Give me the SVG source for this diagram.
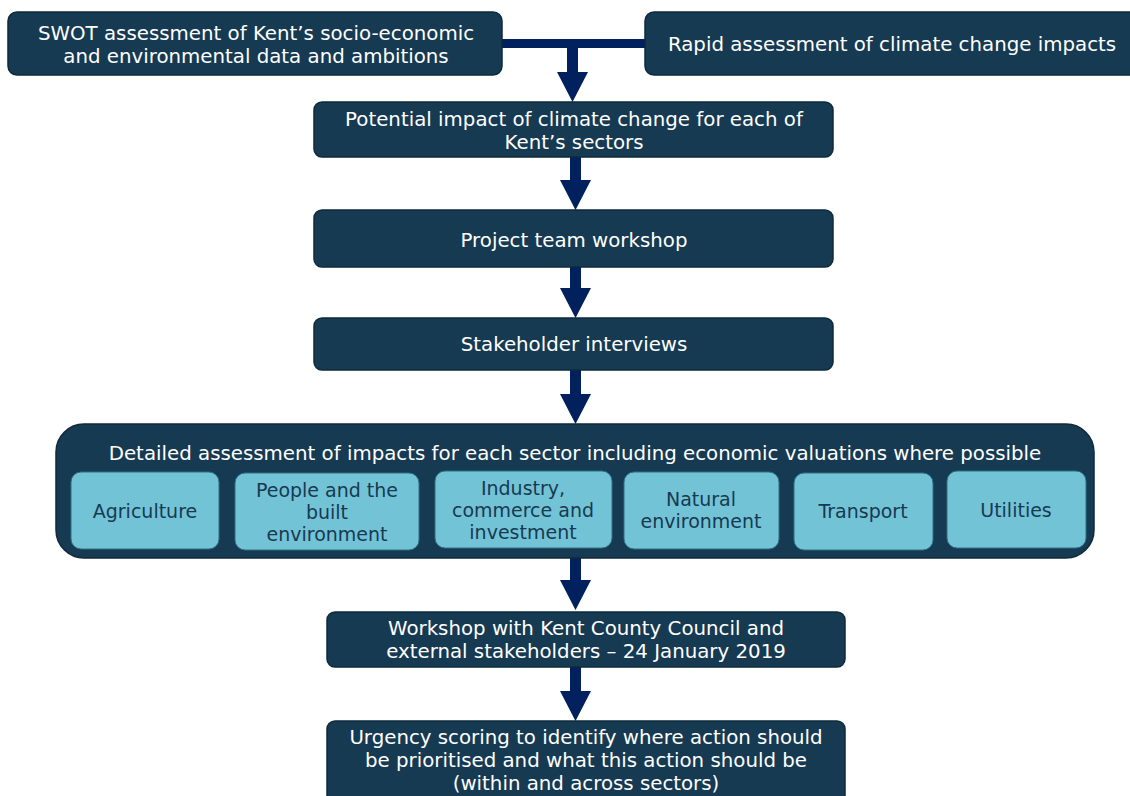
<svg xmlns="http://www.w3.org/2000/svg" width="1130" height="796" viewBox="0 0 1130 796">
<style>
.box{fill:#163a52;stroke:#0e2a3c;stroke-width:1.5}
.sub{fill:#73c3d7;stroke:#2f6f84;stroke-width:1}
.t{font-family:"DejaVu Sans",Verdana,sans-serif;font-size:19.8px;fill:#ffffff;text-anchor:middle}
.s{font-family:"DejaVu Sans",Verdana,sans-serif;font-size:19px;fill:#173a50;text-anchor:middle}
.arr{fill:#00205e}
</style>
<rect width="1130" height="796" fill="#ffffff"/>
<g id="connectors">
<rect class="arr" x="502" y="39" width="144" height="9"/>
<polygon class="arr" points="567,48 578,48 578,72 588,72 572.5,102 557,72 567,72"/>
<polygon class="arr" points="570,157 581,157 581,180 591,180 575.5,210 560,180 570,180"/>
<polygon class="arr" points="570,267 581,267 581,288 591,288 575.5,318 560,288 570,288"/>
<polygon class="arr" points="570,370 581,370 581,394 591,394 575.5,424 560,394 570,394"/>
<polygon class="arr" points="570,558 581,558 581,580 591,580 575.5,610 560,580 570,580"/>
<polygon class="arr" points="570,667 581,667 581,691 591,691 575.5,721 560,691 570,691"/>
</g>
<g id="swot">
<rect class="box" x="8" y="12" width="494" height="63" rx="9"/>
<text class="t" x="256" y="40">SWOT assessment of Kent’s socio-economic</text>
<text class="t" x="256" y="63">and environmental data and ambitions</text>
</g>
<g id="rapid">
<rect class="box" x="645" y="12" width="500" height="63" rx="9"/>
<text class="t" x="892" y="51">Rapid assessment of climate change impacts</text>
</g>
<g id="potential">
<rect class="box" x="314" y="102" width="519" height="55" rx="8"/>
<text class="t" x="574" y="126">Potential impact of climate change for each of</text>
<text class="t" x="574" y="149">Kent’s sectors</text>
</g>
<g id="project">
<rect class="box" x="314" y="210" width="519" height="57" rx="8"/>
<text class="t" x="574" y="247">Project team workshop</text>
</g>
<g id="stakeholder">
<rect class="box" x="314" y="318" width="519" height="52" rx="8"/>
<text class="t" x="574" y="351">Stakeholder interviews</text>
</g>
<g id="detailed">
<rect class="box" x="56" y="424" width="1038" height="134" rx="28"/>
<text class="t" x="575" y="460">Detailed assessment of impacts for each sector including economic valuations where possible</text>
</g>
<g id="agriculture">
<rect class="sub" x="71" y="472" width="148" height="77" rx="10"/>
<text class="s" x="145" y="518">Agriculture</text>
</g>
<g id="people">
<rect class="sub" x="235" y="473" width="184" height="77" rx="10"/>
<text class="s" x="327" y="497">People and the</text>
<text class="s" x="327" y="519">built</text>
<text class="s" x="327" y="541">environment</text>
</g>
<g id="industry">
<rect class="sub" x="435" y="471" width="177" height="77" rx="10"/>
<text class="s" x="523" y="495">Industry,</text>
<text class="s" x="523" y="517">commerce and</text>
<text class="s" x="523" y="539">investment</text>
</g>
<g id="natural">
<rect class="sub" x="624" y="472" width="155" height="77" rx="10"/>
<text class="s" x="701" y="506">Natural</text>
<text class="s" x="701" y="528">environment</text>
</g>
<g id="transport">
<rect class="sub" x="794" y="473" width="139" height="77" rx="10"/>
<text class="s" x="863" y="518">Transport</text>
</g>
<g id="utilities">
<rect class="sub" x="947" y="471" width="139" height="77" rx="10"/>
<text class="s" x="1016" y="517">Utilities</text>
</g>
<g id="workshop">
<rect class="box" x="327" y="612" width="518" height="55" rx="8"/>
<text class="t" x="586" y="635">Workshop with Kent County Council and</text>
<text class="t" x="586" y="658">external stakeholders – 24 January 2019</text>
</g>
<g id="urgency">
<rect class="box" x="327" y="721" width="518" height="90" rx="8"/>
<text class="t" x="586" y="744">Urgency scoring to identify where action should</text>
<text class="t" x="586" y="767">be prioritised and what this action should be</text>
<text class="t" x="586" y="790">(within and across sectors)</text>
</g>
</svg>
